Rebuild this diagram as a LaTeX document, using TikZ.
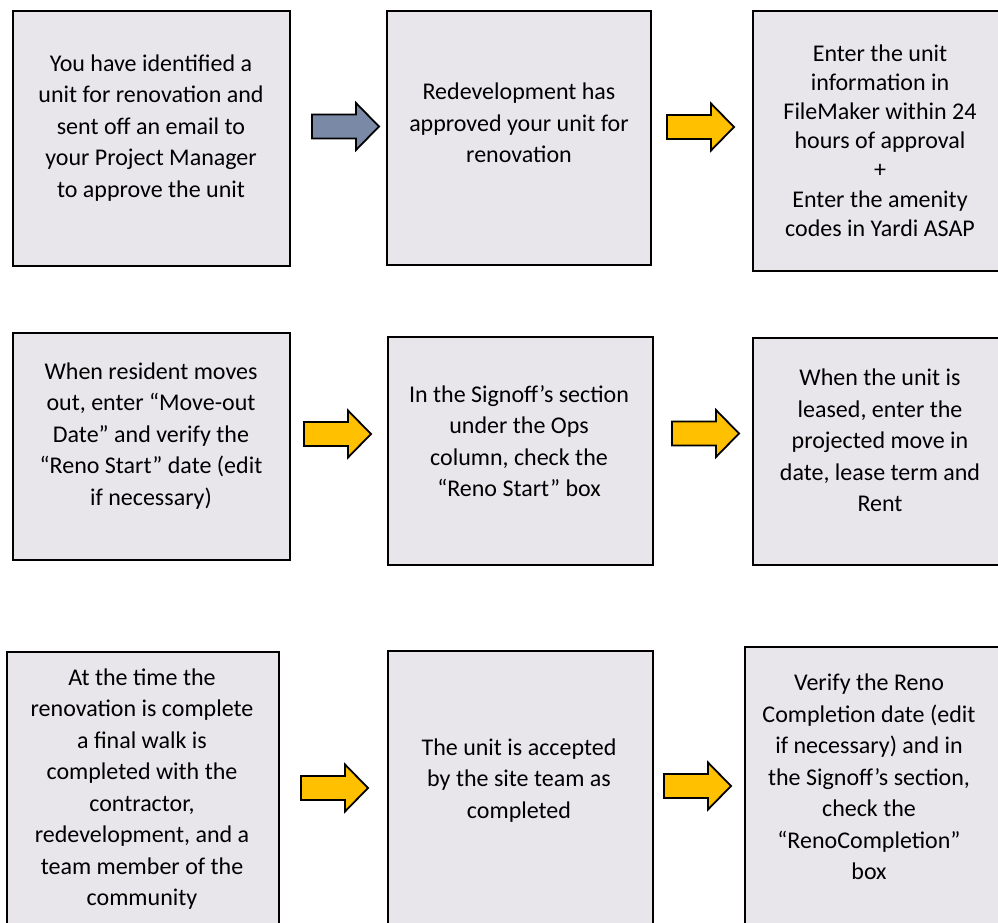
\documentclass[tikz,border=0pt]{standalone}
\usepackage{fontspec}
\setmainfont{Carlito}
\definecolor{boxfill}{RGB}{232,230,235}
\definecolor{greyarrow}{RGB}{122,137,165}
\definecolor{yellowarrow}{RGB}{255,192,0}
\begin{document}
\begin{tikzpicture}[x=1pt,y=-1pt,
  box/.style={draw=black, fill=boxfill, line width=2.4pt, inner sep=0pt},
  txt/.style={align=center, inner sep=0pt, font=\fontsize{24}{31.5}\selectfont},
  txtc/.style={align=center, inner sep=0pt, font=\fontsize{24}{29.2}\selectfont},
  blockarrow/.pic={\draw[pic actions] (0,-12)--(44,-12)--(44,-23.5)--(67,0)--(44,23.5)--(44,12)--(0,12)--cycle;},
  yarrow/.style={fill=yellowarrow, draw=black, line width=1.8pt, line join=miter},
  garrow/.style={fill=greyarrow, draw=black, line width=1.8pt, line join=miter}]
\useasboundingbox (0,0) rectangle (998,923);
\clip (0,0) rectangle (998,923);
% boxes
\node[box, minimum width=277pt, minimum height=255pt] (A) at (151.5,138.5) {};
\node[box, minimum width=264pt, minimum height=254pt] (B) at (519,138) {};
\node[box, minimum width=254pt, minimum height=260pt] (C) at (880,141) {};
\node[box, minimum width=277pt, minimum height=227pt] (D) at (151.5,446.5) {};
\node[box, minimum width=265pt, minimum height=228pt] (E) at (520.5,451) {};
\node[box, minimum width=254pt, minimum height=227pt] (F) at (880,451.5) {};
\node[box, minimum width=272pt, minimum height=283pt] (G) at (143,793.5) {};
\node[box, minimum width=265pt, minimum height=284pt] (H) at (520.5,793) {};
\node[box, minimum width=255pt, minimum height=288pt] (I) at (872.5,791) {};
% texts
\node[txt] (tA) at (151,128) {You have identified a\\unit for renovation and\\sent off an email to\\your Project Manager\\to approve the unit};
\node[txt] (tB) at (519,123) {Redevelopment has\\approved your unit for\\renovation};
\node[txtc] (tC) at (880,140.5) {Enter the unit\\information in\\FileMaker within 24\\hours of approval\\+\\Enter the amenity\\codes in Yardi ASAP};
\node[txt] (tD) at (151,436) {When resident moves\\out, enter “Move-out\\Date” and verify the\\“Reno Start” date (edit\\if necessary)};
\node[txt] (tE) at (519,441) {In the Signoff’s section\\under the Ops\\column, check the\\“Reno Start” box};
\node[txt] (tF) at (880,440.5) {When the unit is\\leased, enter the\\projected move in\\date, lease term and\\Rent};
\node[txt] (tG) at (142,789) {At the time the\\renovation is complete\\a final walk is\\completed with the\\contractor,\\redevelopment, and a\\team member of the\\community};
\node[txt] (tH) at (519,780.5) {The unit is accepted\\by the site team as\\completed};
\node[txt] (tI) at (869,777) {Verify the Reno\\Completion date (edit\\if necessary) and in\\the Signoff’s section,\\check the\\“RenoCompletion”\\box};
% arrows
\pic[garrow] (a1) at (312,126.5) {blockarrow};
\pic[yarrow] (a2) at (667,127) {blockarrow};
\pic[yarrow] (a3) at (304,434) {blockarrow};
\pic[yarrow] (a4) at (672,433.5) {blockarrow};
\pic[yarrow] (a5) at (301,788) {blockarrow};
\pic[yarrow] (a6) at (664,786) {blockarrow};
\end{tikzpicture}
\end{document}
